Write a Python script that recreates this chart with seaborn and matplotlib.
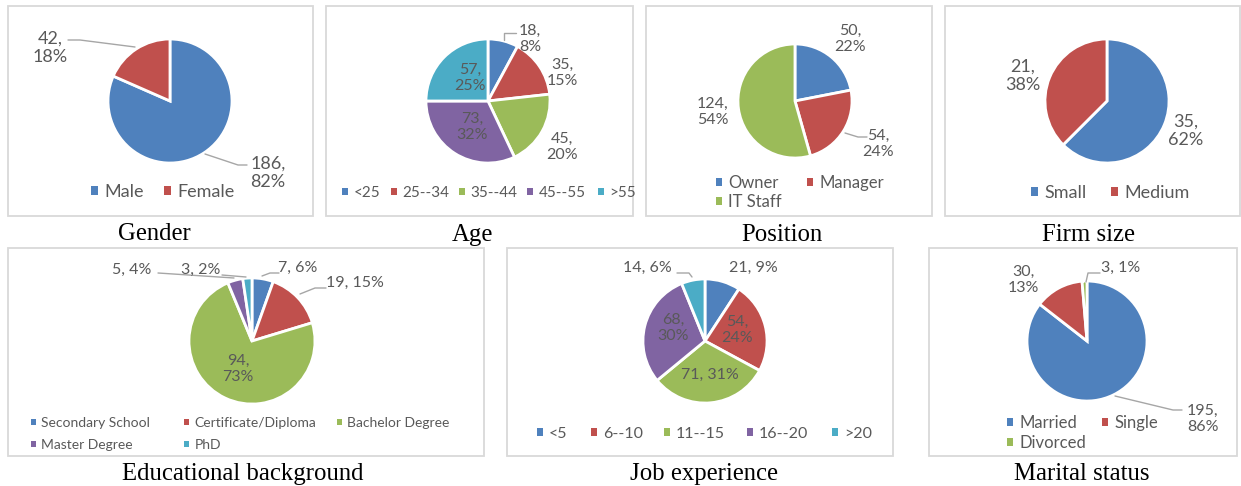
import matplotlib
matplotlib.use("Agg")
import matplotlib.pyplot as plt
from matplotlib.patches import Rectangle, Patch
import seaborn as sns

# ---- data ----
gender_labels = ["Male", "Female"]
gender_counts = [186, 42]
gender_pct = [82, 18]

age_labels = ["<25", "25--34", "35--44", "45--55", ">55"]
age_counts = [18, 35, 45, 73, 57]
age_pct = [8, 15, 20, 32, 25]

position_labels = ["Owner", "Manager", "IT Staff"]
position_counts = [50, 54, 124]
position_pct = [22, 24, 54]

firm_labels = ["Small", "Medium"]
firm_counts = [35, 21]
firm_pct = [62, 38]

education_labels = ["Secondary School", "Certificate/Diploma", "Bachelor Degree",
                    "Master Degree", "PhD"]
education_counts = [7, 19, 94, 5, 3]
education_pct = [6, 15, 73, 4, 2]

experience_labels = ["<5", "6--10", "11--15", "16--20", ">20"]
experience_counts = [21, 54, 71, 68, 14]
experience_pct = [9, 24, 31, 30, 6]

marital_labels = ["Married", "Single", "Divorced"]
marital_counts = [195, 30, 3]
marital_pct = [86, 13, 1]

# ---- style ----
W, H = 1241, 486
palette = sns.color_palette(["#4F81BD", "#C0504D", "#9BBB59", "#8064A2", "#4BACC6"])
TEXT = "#595959"
LEADER = "#A6A6A6"
BORDER = "#D9D9D9"

sns.set_theme(style="white")
plt.rcParams["font.family"] = ["Lato", "DejaVu Sans"]


def img(x, y):
    """image pixel coords (y down) -> axes coords (y up)"""
    return x, H - y


# layout per panel, all in image pixels
panels = [
    dict(caption="Gender", labels=gender_labels, counts=gender_counts, pct=gender_pct,
         box=(8, 6, 313, 216), center=(170, 101), radius=62, explode=0.025, fs=13,
         text_xy=[(268, 173), (50, 48)], sep=["\n", "\n"],
         leaders=[[(205, 154), (238, 165), (247, 165)], [(135, 47), (80, 40), (68, 40)]],
         cap=(154, 240), leg_fs=13, leg_xy=[(91, 192), (164, 192)]),
    dict(caption="Age", labels=age_labels, counts=age_counts, pct=age_pct,
         box=(326, 6, 633, 216), center=(488, 101), radius=62, explode=0.03, fs=11.5,
         text_xy=[(530, 39), (562, 73), (562, 147), (472, 127), (470, 78)],
         sep=["\n"] * 5,
         leaders=[[(504, 40), (504, 33), (516, 33)]],
         cap=(472, 241), leg_fs=11,
         leg_xy=[(342, 193), (391, 193), (459, 193), (527, 193), (598, 193)]),
    dict(caption="Position", labels=position_labels, counts=position_counts, pct=position_pct,
         box=(646, 6, 932, 216), center=(795, 101), radius=57, explode=0.03, fs=11.5,
         text_xy=[(850, 39), (878, 144), (713, 112)], sep=["\n"] * 3,
         leaders=[[(845, 133), (858, 137), (867, 137)]],
         cap=(782, 241), leg_fs=12,
         leg_xy=[(716, 183), (807, 183), (716, 202)]),
    dict(caption="Firm size", labels=firm_labels, counts=firm_counts, pct=firm_pct,
         box=(945, 6, 1240, 216), center=(1107, 101), radius=62, explode=0.025, fs=13,
         text_xy=[(1186, 131), (1023, 76)], sep=["\n", "\n"],
         leaders=[],
         cap=(1089, 241), leg_fs=13, leg_xy=[(1031, 193), (1111, 193)]),
    dict(caption="Educational background", labels=education_labels, counts=education_counts,
         pct=education_pct,
         box=(8, 248, 484, 456), center=(252, 341), radius=63, explode=0.05, fs=11.5,
         text_xy=[(298, 268), (355, 283), (238, 369), (132, 270), (201, 270)],
         sep=[", ", ", ", "\n", ", ", ", "],
         leaders=[[(262, 276), (270, 273), (279, 273)],
                  [(300, 294), (315, 288), (326, 288)],
                  [(234, 278), (158, 273)],
                  [(246, 277), (222, 275)]],
         cap=(243, 480), leg_fs=10,
         leg_xy=[(31, 423), (184, 423), (337, 423), (31, 445), (184, 445)]),
    dict(caption="Job experience", labels=experience_labels, counts=experience_counts,
         pct=experience_pct,
         box=(507, 248, 893, 456), center=(705, 341), radius=62, explode=0.04, fs=11.5,
         text_xy=[(753, 268), (737, 330), (710, 375), (673, 328), (647, 268)],
         sep=[", ", "\n", ", ", "\n", ", "],
         leaders=[[(677, 273), (689, 273), (692, 277)]],
         cap=(704, 480), leg_fs=11.5,
         leg_xy=[(537, 434), (591, 434), (664, 434), (747, 434), (832, 434)]),
    dict(caption="Marital status", labels=marital_labels, counts=marital_counts, pct=marital_pct,
         box=(929, 248, 1237, 456), center=(1087, 341), radius=60, explode=0.025, fs=11.5,
         text_xy=[(1203, 419), (1023, 280), (1121, 268)],
         sep=["\n", "\n", ", "],
         leaders=[[(1115, 396), (1173, 410), (1182, 410)],
                  [(1086, 282), (1088, 273), (1100, 273)]],
         cap=(1082, 480), leg_fs=12,
         leg_xy=[(1007, 423), (1102, 423), (1007, 443)]),
]

fig = plt.figure(figsize=(W / 100, H / 100), dpi=100)
ax = fig.add_axes([0, 0, 1, 1])

for p in panels:
    x0, y0, x1, y1 = p["box"]
    ax.add_patch(Rectangle(img(x0, y1), x1 - x0, y1 - y0, fill=False,
                           edgecolor=BORDER, linewidth=1.3, zorder=0))

    counts = p["counts"]
    n = len(counts)
    colors = palette[:n]
    ax.pie(counts, colors=colors, startangle=90, counterclock=False,
           center=img(*p["center"]), radius=p["radius"], explode=[p["explode"]] * n,
           wedgeprops=dict(edgecolor="white", linewidth=2), frame=True)

    # data labels "value, pct%"
    for c, pc, (tx, ty), sep in zip(counts, p["pct"], p["text_xy"], p["sep"]):
        ax.text(*img(tx, ty), f"{c},{sep.strip(',')}{pc}%",
                ha="center", va="center", multialignment="center",
                fontsize=p["fs"], color=TEXT, linespacing=1.15)

    for pts in p["leaders"]:
        xs, ys = zip(*[img(*q) for q in pts])
        ax.plot(xs, ys, color=LEADER, linewidth=1)

    ax.text(*img(*p["cap"]), p["caption"], ha="center", va="baseline",
            fontsize=17.8, family=["Liberation Serif"], color="black")

    # Excel places legend entries on a fixed grid, so one entry per legend
    for i, (lx, ly) in enumerate(p["leg_xy"]):
        leg = ax.legend([Patch(facecolor=colors[i], edgecolor="none")], [p["labels"][i]],
                        loc="center left", bbox_to_anchor=img(lx, ly),
                        bbox_transform=ax.transData, frameon=False,
                        fontsize=p["leg_fs"], labelcolor=TEXT, handlelength=0.36,
                        handleheight=0.36, handletextpad=0.38,
                        borderpad=0, borderaxespad=0)
        ax.add_artist(leg)

# every legend is already an artist; avoid drawing the last one twice
ax.legend_ = None

ax.set_xlim(0, W)
ax.set_ylim(0, H)
ax.set_aspect("equal")
ax.axis("off")

fig.savefig("out.png", dpi=100)
